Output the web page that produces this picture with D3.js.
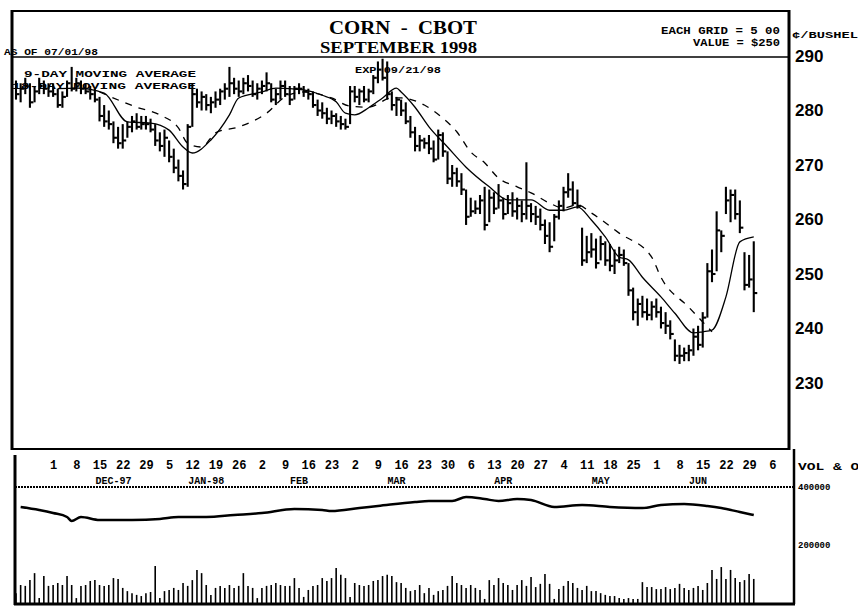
<!DOCTYPE html>
<html><head><meta charset="utf-8">
<script src="https://cdn.jsdelivr.net/npm/d3@7"></script>
<style>
html,body{margin:0;padding:0;background:#fff;}
svg{display:block;}
.mono{font-family:"Liberation Mono","DejaVu Sans Mono",monospace;font-weight:bold;fill:#000;}
</style></head><body>
<svg id="c" width="858" height="615"></svg>
<script>
// ---- DATA (trading-day index 0 = 19 Nov 1997, index 8 = Mon 1 Dec 1997) ----
const high = [
285.5,285,286,285,284.5,286,285.5,285,
285,284,283.5,285.5,288,
286,285.5,285,284.5,284,
282.5,281,280,278,277,
277.5,278,279,279.5,279,
279,278.5,277.5,276,276.5,
274.5,273,271,269,277.5,
285,284,283.5,283,282.5,
283.5,284,285,288,286,
285.5,286,286.5,285.5,285,
285.5,287,285,284,285.5,
285.5,284.5,284.5,285,284.5,
284,283.5,282,281.5,280.5,
280,279.5,279,278.5,284.5,
284.5,284,284.5,284,286.5,
289,289.5,289,283.5,282.5,
282,281.5,279,277,275.5,
275,275.5,274.5,276.5,276,
272.5,270,269.5,268.5,265.5,
264,263.5,264.5,266,265.5,
265,266.5,264,264.5,265,
264,263.5,270.5,263,262.5,
262,260,259.5,261,263.5,
266,268.5,267,265.5,258.5,
257,257.5,256.5,257,256,
255.5,254.5,255,254.5,252,
247.5,245.5,246,245.5,245,
245.5,244,243,241.5,238,
237,236.5,237,240,240.5,
243,252,254.5,261.5,258,
266,265.5,265.5,263.5,254,
253.5,256];
const low = [
282,281.5,283,280.5,281.5,283,283,282.5,
282.5,280.5,280.5,282.5,283.5,
283.5,283,283,282,281.5,
278,277,276.5,274,273,
273,275,276,276.5,276.5,
276.5,276,273.5,272.5,271.5,
270.5,268.5,267,265.5,266,
277,280.5,280,280,279.5,
280.5,281,282,282.5,283,
282.5,283,283.5,282.5,282,
283,283.5,281.5,281,282,
282.5,281,282,283,282.5,
282,280.5,279,278.5,277.5,
277.5,277,276.5,276.5,277.5,
281.5,281,281.5,281.5,283,
285,285.5,282,280,279,
279,277.5,275,272.5,272.5,
273,272,270.5,271,271.5,
266.5,266,266,264.5,259,
260.5,261,261,258,259.5,
261,262,260,261,260.5,
260,259.5,260,259.5,259,
258,255.5,254,256,260,
261.5,264,262.5,262,251.5,
252,253,251,252.5,251.5,
250.5,250,252,251.5,246,
241.5,240.5,242,241.5,241.5,
242,240,239,238,234,
233.5,234,234,235,236,
236.5,242,248.5,250.5,254,
261,259.5,260,257.5,247,
247.5,243];
const close = [
283,284,284.5,281.5,283.5,284.5,284,283.5,
283,281,282.5,285,284,
285,284,283.5,283,282,
279,278,277.5,275,274,
274.5,277,278,277,277.5,
277.5,276.5,274.5,273.5,275,
271.5,269.5,268,266.5,277,
283,281.5,282.5,281,281.5,
282,283.5,284,285,284,
283.5,285,284.5,283,284,
284.5,285,282,283,284.5,
283,282,284,284,283.5,
283,281,280,279.5,278.5,
279,278,277.5,277,283.5,
282.5,283.5,282,283.5,286,
287.5,286,283,281,282,
280,278,276,273.5,274.5,
274,273,271,275.5,272.5,
267.5,268.5,267,265.5,260.5,
261.5,262,263.5,259,264,
262,263.5,261,263,261.5,
262.5,261,262.5,261,260.5,
259,257,255,260.5,262.5,
265,265.5,263,262.5,252.5,
254,254.5,252,255.5,252.5,
251.5,252.5,253.5,252,247,
243,244.5,243,242.5,244,
243,241,240.5,239,235,
235,235.5,236,238.5,237,
242,250.5,250,258,257,
263.5,264.5,261,258.5,248,
249,246.5];

// moving averages (day index, cents/bushel)
const fastMaDay = [9,13,19,24,29,33,36,38,42,46,48,53,56,62,66,69,71,73,76,79,82,83,86,89,93,97,102,106,111,115,118,121,124,127,130,132,135,139,142,146,148,150,153,156,159];
const fastMaVal = [284,284.1,283.2,277.9,277.7,276.4,273.3,272.2,274.6,279.2,282.3,283.4,284.1,283.8,282.8,281.6,279.5,279.2,280.5,282.3,284.1,283.4,280.6,277,273.3,269.6,266,263.6,263.6,261.7,261.7,262.3,259.9,256.8,253.1,252.6,249.4,245.8,242.8,239.2,239.4,239.7,245.8,255.9,256.8];
const slowMaDay = [18,26,31,35,37,40,43,48,54,58,62,68,72,76,81,83,88,92,95,98,101,104,108,111,115,118,121,124,130,137,139,145,148,150];
const slowMaVal = [283.4,280.6,279.2,276.8,274,273.3,275.9,277,279.5,282.5,283.4,282.3,280.8,280.6,282.3,282.3,281,278.6,276.1,272.4,270.4,267.6,266,264.9,263,262.1,262.7,261.2,257.5,253.1,249.4,243.9,241.2,239.4];

// volume (thousands of contracts), one per trading day
const volume = [
34,62,59,79,103,17,93,59,62,69,
62,93,62,17,59,62,76,79,62,59,
62,86,83,52,41,34,28,24,34,38,
128,17,41,45,52,45,69,59,79,114,
103,62,28,52,59,52,62,52,59,103,
59,52,17,52,59,62,69,62,59,59,
86,52,21,45,59,62,86,76,86,121,
97,86,21,69,62,59,62,76,79,93,
97,93,72,69,52,41,45,62,34,52,
28,41,45,59,93,69,62,52,62,52,
45,14,79,62,86,69,62,45,62,79,
59,90,55,66,100,66,14,48,59,76,
69,52,45,59,41,41,34,28,24,24,
17,14,17,14,14,72,55,55,48,48,
55,48,52,66,52,45,52,59,45,69,
114,83,124,83,114,86,72,79,100,83];
// open interest (thousands), read at sample days
const oiDay = [1,5,8,11,12,14,18,25,31,35,41,47,53,60,66,68,74,78,86,89,94,97,101,104,108,111,116,122,128,135,139,144,149,152,156,159];
const oiVal = [331,320.7,310.3,296.6,282.8,296.6,286.2,286.2,289.7,296.6,296.6,303.4,310.3,324.1,320.7,317.2,327.6,334.5,348.3,351.7,351.7,365.5,358.6,351.7,358.6,355.2,331,337.9,331,327.6,337.9,341.4,334.5,327.6,313.8,303.4];

// axis labels
const priceTicks = [230,240,250,260,270,280,290];
const dayTickIdx = [8,13,18,23,28,33,38,43,48,53,58,63,68,73,78,83,88,93,98,103,108,113,118,123,128,133,138,143,148,153,158,163];
const dayTickLabels = ["1","8","15","22","29","5","12","19","26","2","9","16","23","2","9","16","23","30","6","13","20","27","4","11","18","25","1","8","15","22","29","6"];
const monthLabels = ["DEC-97","JAN-98","FEB","MAR","APR","MAY","JUN"];
const monthIdx = [21,41,61,82,105,126,147];
const volTicks = [400,200];
const volTickLabels = ["400000","200000"];

// ---- DRAWING ----
const svg = d3.select("#c");
svg.append("rect").attr("width",858).attr("height",615).attr("fill","#fff");

const x = d3.scaleLinear().domain([0,163]).range([16, 16 + 4.64*163]);
const y = d3.scaleLinear().domain([230,290]).range([383,56]);
const v = d3.scaleLinear().domain([0,400]).range([603,487]);

const frame = svg.append("g").attr("stroke","#000").attr("fill","none");
function ln(x1,y1,x2,y2,w){frame.append("line").attr("x1",x1).attr("y1",y1).attr("x2",x2).attr("y2",y2).attr("stroke-width",w);}
ln(11,11,790,11,2);     // top
ln(12,10,12,450,3);     // left
ln(789,10,789,450,3);   // right
ln(12,57,789,57,1.5);   // header separator
ln(12,449,789,449,2);   // price panel bottom
ln(15,455,15,605,3);    // lower left
ln(794,449,794,604,2.5);// lower right
ln(14,604,795,604,3);   // lower bottom
svg.append("line").attr("x1",15).attr("x2",794).attr("y1",v(400)).attr("y2",v(400))
  .attr("stroke","#000").attr("stroke-width",2).attr("stroke-dasharray","2,1");

// header text
svg.append("text").attr("x",403).attr("y",34).attr("text-anchor","middle")
  .style("font-family","'Liberation Serif',serif").style("font-weight","bold").style("font-size","18px")
  .style("white-space","pre").attr("textLength",148).attr("lengthAdjust","spacingAndGlyphs").text("CORN  -  CBOT");
svg.append("text").attr("x",320).attr("y",53)
  .style("font-family","'Liberation Serif',serif").style("font-weight","bold").style("font-size","17px")
  .attr("textLength",157).attr("lengthAdjust","spacingAndGlyphs").text("SEPTEMBER 1998");
function mt(t,xx,yy,size,len,anchor){
  const e=svg.append("text").attr("class","mono").attr("x",xx).attr("y",yy).style("font-size",size+"px").text(t);
  if(len) e.attr("textLength",len).attr("lengthAdjust","spacingAndGlyphs");
  if(anchor) e.attr("text-anchor",anchor);
  return e;
}
mt("AS OF 07/01/98",4,55,9,94);
mt("EACH GRID = 5 00",661,34,10,119);
mt("VALUE = $250",693,46,10,87);
mt("¢/BUSHEL",792,38,9,66);
mt("EXP 09/21/98",355,73,9,86);
mt("9-DAY  MOVING  AVERAGE",24,77,9,172);
mt("18-DAY MOVING  AVERAGE",12,89,9,184);
mt("VOL & OI",798,470,10,70);

// price axis
const pAx = svg.append("g").attr("transform","translate(789,0)")
  .call(d3.axisRight(y).tickValues(priceTicks).tickSize(0).tickPadding(6));
pAx.select(".domain").remove();
pAx.selectAll("text").style("font-family","'Liberation Sans',Arial,sans-serif").style("font-weight","bold").style("font-size","17px").attr("fill","#000");

// date axis
const dAx = svg.append("g").attr("transform","translate(0,457)")
  .call(d3.axisBottom(x).tickValues(dayTickIdx).tickFormat((d,i)=>dayTickLabels[i]).tickSize(0).tickPadding(3));
dAx.select(".domain").remove();
dAx.selectAll("text").attr("class","mono").style("font-size","12px").attr("fill","#000");
svg.append("g").selectAll("text").data(monthLabels).join("text")
  .attr("class","mono").attr("x",(d,i)=>x(monthIdx[i])).attr("y",484).attr("text-anchor","middle")
  .style("font-size","10px").text(d=>d);

// volume axis
const vAx = svg.append("g").attr("transform","translate(794,0)")
  .call(d3.axisRight(v).tickValues(volTicks).tickFormat((d,i)=>volTickLabels[i]).tickSize(0).tickPadding(4));
vAx.select(".domain").remove();
vAx.selectAll("text").attr("class","mono").style("font-size","9px").attr("fill","#000");

// HLC bars (high-low + close tick)
const bars = svg.append("g").attr("stroke","#000").attr("stroke-width",2.1);
bars.selectAll("line.hl").data(high).join("line").attr("class","hl")
  .attr("x1",(d,i)=>x(i)).attr("x2",(d,i)=>x(i))
  .attr("y1",d=>y(d)).attr("y2",(d,i)=>y(low[i]));
bars.selectAll("line.cl").data(close).join("line").attr("class","cl")
  .attr("x1",(d,i)=>x(i)).attr("x2",(d,i)=>x(i)+3.5)
  .attr("y1",d=>y(d)).attr("y2",d=>y(d));

// moving averages
const maLine = d3.line().x(d=>x(d[0])).y(d=>y(d[1])).curve(d3.curveMonotoneX);
svg.append("path").attr("d",maLine(fastMaDay.map((d,i)=>[d,fastMaVal[i]])))
  .attr("fill","none").attr("stroke","#000").attr("stroke-width",1.3);
svg.append("path").attr("d",maLine(slowMaDay.map((d,i)=>[d,slowMaVal[i]])))
  .attr("fill","none").attr("stroke","#000").attr("stroke-width",1.3).attr("stroke-dasharray","7,7");

// volume bars
svg.append("g").attr("stroke","#000").attr("stroke-width",1.6)
  .selectAll("line").data(volume).join("line")
  .attr("x1",(d,i)=>x(i)).attr("x2",(d,i)=>x(i))
  .attr("y1",v(0)).attr("y2",d=>v(d));

// open interest
const oiLine = d3.line().x(d=>x(d[0])).y(d=>v(d[1])).curve(d3.curveMonotoneX);
svg.append("path").attr("d",oiLine(oiDay.map((d,i)=>[d,oiVal[i]])))
  .attr("fill","none").attr("stroke","#000").attr("stroke-width",2.5);
</script>
</body></html>
